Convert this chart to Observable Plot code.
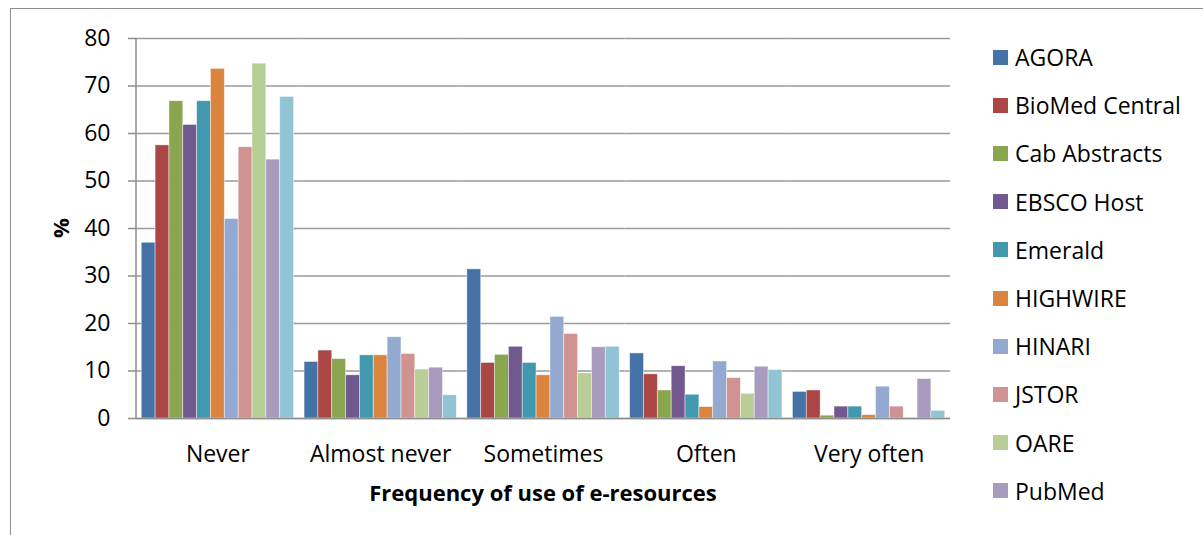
<!DOCTYPE html>
<html>
<head>
<meta charset="utf-8">
<script src="https://cdn.jsdelivr.net/npm/d3@7"></script>
<script src="https://cdn.jsdelivr.net/npm/@observablehq/plot@0.6"></script>
<style>
  html, body { margin: 0; padding: 0; background: #fff; overflow: hidden; }
  #wrap { position: relative; width: 1203px; height: 535px; font-family: "Open Sans", sans-serif; }
  #border { position: absolute; left: 10px; top: 8px; width: 1300px; height: 700px; border: 1.5px solid #8e8e8e; box-sizing: border-box; }
  #chart { position: absolute; left: 0; top: 0; }
  #legend { position: absolute; left: 993px; top: 0; }
  .item { position: absolute; left: 0; display: flex; align-items: center; white-space: nowrap; font-size: 23px; color: #000; }
  .sw { width: 15px; height: 15px; margin-right: 7px; }
</style>
</head>
<body>
<div id="wrap">
  <div id="border"></div>
  <div id="chart"></div>
  <div id="legend"></div>
</div>
<script>
const categories = ["Never", "Almost never", "Sometimes", "Often", "Very often"];
const series = ["AGORA", "BioMed Central", "Cab Abstracts", "EBSCO Host", "Emerald", "HIGHWIRE", "HINARI", "JSTOR", "OARE", "PubMed", "Science Direct"];
const colors = ["#4572A7", "#AA4643", "#89A54E", "#71588F", "#4198AF", "#DB843D", "#93A9CF", "#D19392", "#B9CD96", "#A99BBD", "#92C3D4"];
// values per series, in category order
const AGORA        = [37.0, 11.9, 31.4, 13.7, 5.6];
const BioMed       = [57.5, 14.3, 11.7, 9.3, 5.9];
const Cab          = [66.8, 12.5, 13.4, 5.9, 0.6];
const EBSCO        = [61.8, 9.1, 15.1, 11.0, 2.5];
const Emerald      = [66.8, 13.3, 11.7, 5.0, 2.5];
const HIGHWIRE     = [73.6, 13.3, 9.1, 2.4, 0.7];
const HINARI       = [42.0, 17.1, 21.4, 12.0, 6.7];
const JSTOR        = [57.1, 13.6, 17.8, 8.5, 2.5];
const OARE         = [74.7, 10.3, 9.5, 5.2, 0.0];
const PubMed       = [54.5, 10.7, 15.0, 10.9, 8.3];
const ScienceDir   = [67.7, 4.9, 15.1, 10.2, 1.6];
const seriesValues = [AGORA, BioMed, Cab, EBSCO, Emerald, HIGHWIRE, HINARI, JSTOR, OARE, PubMed, ScienceDir];
const yTicks = [0, 10, 20, 30, 40, 50, 60, 70, 80];
const legendShown = 10; // the 11th legend entry is cut off in the original image
const xTitle = "Frequency of use of e-resources";
const yTitle = "%";

const data = [];
series.forEach((s, i) => categories.forEach((c, j) => data.push({series: s, cat: c, value: seriesValues[i][j]})));

const W = 1203, H = 535, mL = 136, mR = 253, mT = 38, mB = 117;

const chart = Plot.plot({
  width: W, height: H,
  marginLeft: mL, marginRight: mR, marginTop: mT, marginBottom: mB,
  style: {fontFamily: "Open Sans, sans-serif", fontSize: "23px", color: "#000", background: "transparent"},
  fx: {domain: categories, padding: 0, round: false, label: null, tickSize: 0, tickPadding: 27, axis: "bottom"},
  x: {domain: series, paddingInner: 0, paddingOuter: 0.38, round: false, axis: null},
  y: {domain: [0, 80], axis: null},
  color: {domain: series, range: colors},
  marks: [
    Plot.gridY(yTicks, {stroke: "#9a9a9a", strokeOpacity: 1, strokeWidth: 1.5}),
    Plot.barY(data, {fx: "cat", x: "series", y: "value", fill: "series", stroke: "#fff", strokeOpacity: 0.55, strokeWidth: 0.8}),
    Plot.ruleY([0], {stroke: "#8e8e8e", strokeWidth: 1.5}),
    Plot.axisY(yTicks, {tickSize: 8, tickPadding: 18, stroke: "#8e8e8e", fill: "#000", label: null, fontSize: 23, strokeWidth: 1.5})
  ]
});
document.getElementById("chart").appendChild(chart);

// axis line, titles
const svg = d3.select(chart);
svg.append("line").attr("x1", mL).attr("x2", mL).attr("y1", mT).attr("y2", H - mB)
  .attr("stroke", "#8e8e8e").attr("stroke-width", 1.5);
svg.append("text").attr("x", (mL + (W - mR)) / 2).attr("y", 501).attr("text-anchor", "middle")
  .attr("font-weight", "bold").attr("font-size", 22).attr("fill", "#000").text(xTitle);
svg.append("text").attr("transform", `translate(69,228) rotate(-90)`).attr("text-anchor", "middle")
  .attr("font-weight", "bold").attr("font-size", 22).attr("fill", "#000").text(yTitle);

// legend
const leg = document.getElementById("legend");
series.slice(0, legendShown).forEach((s, i) => {
  const it = document.createElement("div");
  it.className = "item";
  it.style.top = (57 + i * 48.2 - 17) + "px";
  it.style.height = "34px";
  const sw = document.createElement("div");
  sw.className = "sw";
  sw.style.background = colors[i];
  const t = document.createElement("span");
  t.textContent = s;
  it.appendChild(sw); it.appendChild(t);
  leg.appendChild(it);
});
</script>
</body>
</html>
